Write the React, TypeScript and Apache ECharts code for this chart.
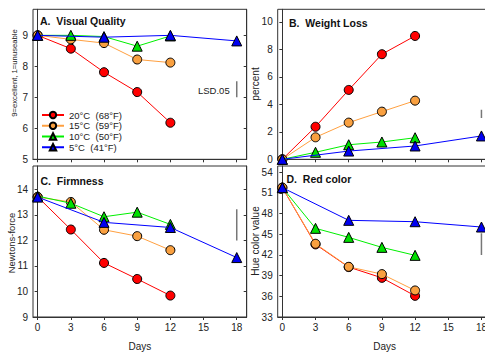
import React, { useEffect, useRef } from 'react';
import * as echarts from 'echarts';

const seriesNames = ['20°C  (68°F)', '15°C  (59°F)', '10°C  (50°F)', '5°C  (41°F)'];
const daysWarm = [0, 3, 6, 9, 12];
const daysCold = [0, 6, 12, 18];
const dayTicks = [0, 3, 6, 9, 12, 15, 18];

const visualRed = [9.0, 8.57, 7.81, 7.17, 6.18];
const visualOrange = [9.0, 8.87, 8.75, 8.22, 8.12];
const visualGreen = [9.0, 9.0, 8.96, 8.65, 8.98];
const visualBlue = [9.0, 8.94, 9.0, 8.82];

const weightRed = [0, 2.37, 5.05, 7.65, 8.98];
const weightOrange = [0, 1.6, 2.67, 3.47, 4.27];
const weightGreen = [0, 0.51, 1.06, 1.26, 1.57];
const weightBlue = [0, 0.6, 0.97, 1.7];

const firmRed = [13.71, 12.43, 11.12, 10.49, 9.84];
const firmOrange = [13.7, 13.51, 12.42, 12.17, 11.62];
const firmGreen = [13.74, 13.46, 12.93, 13.11, 12.63];
const firmBlue = [13.7, 12.71, 12.51, 11.33];

const hueRed = [51.76, 43.53, 40.24, 38.68, 36.07];
const hueOrange = [51.76, 43.62, 40.28, 39.22, 36.85];
const hueGreen = [51.76, 45.86, 44.55, 43.1, 41.94];
const hueBlue = [51.76, 47.02, 46.82, 46.05];

const lsdDay = 18;
const lsdVisual = [7.0, 7.52];
const lsdWeight = [3.0, 3.6];
const lsdFirm = [12.0, 13.22];
const lsdHue = [42.0, 45.13];

const visualTicks = [5, 6, 7, 8, 9];
const weightTicks = [0, 2, 4, 6, 8, 10];
const firmTicks = [9, 10, 11, 12, 13, 14];
const hueTicks = [33, 36, 39, 42, 45, 48, 51, 54];

const panelTitles = ['A.  Visual Quality', 'B.  Weight Loss', 'C.  Firmness', 'D.  Red color'];

const FONT = '"Liberation Sans", Arial, Helvetica, sans-serif';

const looks = [
  { line: '#FF0000', fill: '#FF0000', symbol: 'circle', size: 9 },
  { line: '#FFA040', fill: '#F9A040', symbol: 'circle', size: 9 },
  { line: '#00F000', fill: '#00E000', symbol: 'triangle', size: 10 },
  { line: '#0000FF', fill: '#0000F0', symbol: 'triangle', size: 10 },
];

export default function App() {
  const ref = useRef<HTMLDivElement>(null);
  useEffect(() => {
    if (!ref.current) return;
    const chart = echarts.init(ref.current, undefined, { renderer: 'svg' });

    const panels = [
      { data: [visualRed, visualOrange, visualGreen, visualBlue], lsd: lsdVisual, ticks: visualTicks, min: 5, max: 9.84 },
      { data: [weightRed, weightOrange, weightGreen, weightBlue], lsd: lsdWeight, ticks: weightTicks, min: 0, max: 10.92 },
      { data: [firmRed, firmOrange, firmGreen, firmBlue], lsd: lsdFirm, ticks: firmTicks, min: 9, max: 14.92 },
      { data: [hueRed, hueOrange, hueGreen, hueBlue], lsd: lsdHue, ticks: hueTicks, min: 33, max: 54.9 },
    ];

    const grids = [
      { left: 33, top: 9.3, width: 213.7, height: 150 },
      { left: 277.7, top: 9.3, width: 213.7, height: 150 },
      { left: 33, top: 166, width: 213.7, height: 151 },
      { left: 277.7, top: 166, width: 213.7, height: 151 },
    ].map((g) => ({ ...g, show: true, borderColor: '#333', borderWidth: 1, backgroundColor: 'transparent' }));

    const xAxes = grids.map((_, i) => ({
      type: 'value',
      gridIndex: i,
      min: -0.42,
      max: 18.9,
      name: i >= 2 ? 'Days' : '',
      nameLocation: 'middle',
      nameGap: 24,
      nameTextStyle: { fontFamily: FONT, fontSize: 10, color: '#222' },
      axisLine: { show: true, lineStyle: { color: '#333', width: 1 } },
      axisTick: { show: true, length: 3, lineStyle: { color: '#333' }, customValues: dayTicks },
      axisLabel: { show: i >= 2, fontFamily: FONT, fontSize: 10, color: '#222', margin: 5, customValues: dayTicks },
      splitLine: { show: false },
    }));

    const yAxes: any[] = [];
    panels.forEach((p, i) => {
      yAxes.push({
        type: 'value',
        gridIndex: i,
        position: 'left',
        min: p.min,
        max: p.max,
        axisLine: { show: true, lineStyle: { color: '#333', width: 1 } },
        axisTick: { show: true, length: 3, lineStyle: { color: '#333' }, customValues: p.ticks },
        axisLabel: { fontFamily: FONT, fontSize: 10, color: '#222', margin: 5, customValues: p.ticks },
        splitLine: { show: false },
      });
    });
    [0, 2].forEach((i) => {
      const p = panels[i];
      yAxes.push({
        type: 'value',
        gridIndex: i,
        position: 'right',
        min: p.min,
        max: p.max,
        axisLine: { show: true, lineStyle: { color: '#333', width: 1 } },
        axisTick: { show: true, inside: true, length: 3, lineStyle: { color: '#333' }, customValues: p.ticks },
        axisLabel: { show: false },
        splitLine: { show: false },
      });
    });

    const series: any[] = [];
    panels.forEach((p, pi) => {
      series.push({
        type: 'line',
        name: 'LSD',
        xAxisIndex: pi,
        yAxisIndex: pi,
        data: p.lsd.map((v) => [lsdDay, v]),
        showSymbol: false,
        symbol: 'none',
        silent: true,
        lineStyle: { color: '#777', width: 1.5 },
        z: 1,
      });
      p.data.forEach((vals, si) => {
        const days = si === 3 ? daysCold : daysWarm;
        const lk = looks[si];
        series.push({
          type: 'line',
          name: seriesNames[si],
          xAxisIndex: pi,
          yAxisIndex: pi,
          data: vals.map((v, k) => [days[k], v]),
          symbol: lk.symbol,
          symbolSize: lk.size,
          lineStyle: { color: lk.line, width: 1 },
          itemStyle: { color: lk.fill, borderColor: '#000', borderWidth: 1 },
          color: lk.fill,
          z: 2 + si,
        });
      });
    });

    const titlePos = [
      [40, 20.5],
      [289, 23],
      [40.5, 180.5],
      [286.5, 179],
    ];

    const graphic: any[] = panelTitles.map((t, i) => ({
      type: 'text',
      x: titlePos[i][0],
      y: titlePos[i][1],
      style: { text: t, fontFamily: FONT, fontSize: 10.5, fontWeight: 'bold', fill: '#111', verticalAlign: 'middle', align: 'left' },
    }));
    graphic.push({
      type: 'text',
      x: 198,
      y: 90,
      style: { text: 'LSD.05', fontFamily: FONT, fontSize: 9.5, fill: '#222', verticalAlign: 'middle', align: 'left' },
    });
    const yNames = [
      { t: '9=excellent, 1=unuseable', x: 14.5, y: 73, s: 7.7 },
      { t: 'percent', x: 255, y: 84, s: 10 },
      { t: 'Newtons-force', x: 11, y: 243, s: 9.4 },
      { t: 'Hue color value', x: 255, y: 241, s: 10 },
    ];
    yNames.forEach((n) => {
      graphic.push({
        type: 'text',
        x: n.x,
        y: n.y,
        rotation: Math.PI / 2,
        style: { text: n.t, fontFamily: FONT, fontSize: n.s, fill: '#222', verticalAlign: 'middle', align: 'center' },
      });
    });

    chart.setOption({
      animation: false,
      backgroundColor: '#fff',
      grid: grids,
      xAxis: xAxes,
      yAxis: yAxes,
      legend: {
        data: seriesNames,
        orient: 'vertical',
        left: 41,
        top: 110,
        itemWidth: 22,
        itemHeight: 8,
        itemGap: 0.75,
        padding: 0,
        selectedMode: false,
        textStyle: { fontFamily: FONT, fontSize: 9.5, lineHeight: 10, color: '#222' },
      },
      series,
      graphic,
    });
    return () => chart.dispose();
  }, []);
  return (
    <div style={{ position: 'absolute', left: 0, top: 0, width: 485, height: 352, overflow: 'hidden' }}>
      <div ref={ref} style={{ width: 500, height: 352 }} />
    </div>
  );
}
